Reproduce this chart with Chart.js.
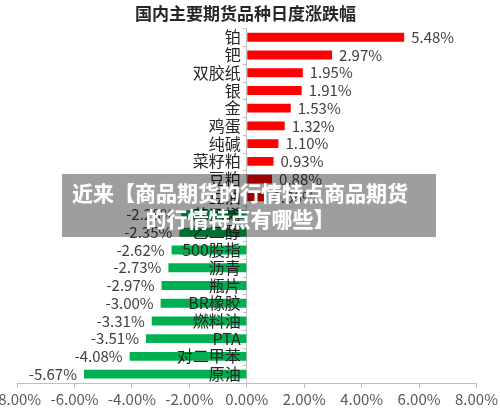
<!DOCTYPE html>
<html>
<head>
<meta charset="utf-8">
<script src="https://cdn.jsdelivr.net/npm/chart.js@4"></script>
<style>
    html, body { margin: 0; padding: 0; background: #fff; overflow: hidden; }
    #wrap { position: relative; width: 500px; height: 412px; overflow: hidden; }
    #chart-box { position: absolute; left: -9px; top: 0; width: 509px; height: 412px; }
    .banner {
        position: absolute; left: 62px; top: 174px; width: 374px; height: 63px;
        background: rgba(0, 0, 0, 0.38);
        box-sizing: border-box; padding: 5px 18px 0 0;
        color: #fff; text-align: center;
        font: bold 21px/26px "Noto Sans CJK SC", sans-serif;
        text-shadow: 0 0 1px rgba(255,255,255,0.6);
    }
</style>
</head>
<body>
<div id="wrap">
    <div id="chart-box"><canvas id="futuresChart" width="509" height="412"></canvas></div>
    <div class="banner">近来【商品期货的行情特点商品期货<br>的行情特点有哪些】</div>
</div>
<script>
// --- DATA ---
const categories = ['铂', '钯', '双胶纸', '银', '金', '鸡蛋', '纯碱', '菜籽粕', '豆粕', '豆油',
    '苯乙烯', '乙二醇', '500股指', '沥青', '瓶片', 'BR橡胶', '燃料油', 'PTA', '对二甲苯', '原油'];
const changes = [5.48, 2.97, 1.95, 1.91, 1.53, 1.32, 1.10, 0.93, 0.88, 0.66,
    -2.28, -2.35, -2.62, -2.73, -2.97, -3.00, -3.31, -3.51, -4.08, -5.67];
const xTicks = [-8, -6, -4, -2, 0, 2, 4, 6, 8];

const FONT = '"Noto Sans CJK SC", sans-serif';

// value labels at bar ends, category labels + small ticks next to the zero line
const barText = {
    id: 'barText',
    afterDatasetsDraw(chart) {
        const ctx = chart.ctx;
        const xs = chart.scales.x;
        const ys = chart.scales.y;
        const x0 = xs.getPixelForValue(0);
        const meta = chart.getDatasetMeta(0);
        ctx.save();

        // tick marks between categories
        ctx.strokeStyle = '#BFBFBF';
        ctx.lineWidth = 1;
        ctx.beginPath();
        const half = (ys.getPixelForTick(1) - ys.getPixelForTick(0)) / 2;
        for (let i = 0; i <= categories.length; i++) {
            const y = Math.round(ys.getPixelForTick(Math.min(i, categories.length - 1)) + (i === categories.length ? half : -half)) + 0.5;
            ctx.moveTo(x0 - 4, y);
            ctx.lineTo(x0, y);
        }
        ctx.stroke();

        ctx.textBaseline = 'middle';
        ctx.font = '15px ' + FONT;
        ctx.fillStyle = '#404040';
        meta.data.forEach((bar, i) => {
            const v = changes[i];
            const txt = v.toFixed(2) + '%';
            if (v >= 0) {
                ctx.textAlign = 'left';
                ctx.fillText(txt, bar.x + 7, bar.y);
            } else {
                ctx.textAlign = 'right';
                ctx.fillText(txt, bar.x - 7, bar.y);
            }
        });

        ctx.font = '16px ' + FONT;
        ctx.fillStyle = '#262626';
        ctx.textAlign = 'right';
        categories.forEach((c, i) => {
            ctx.fillText(c, x0 - 6, ys.getPixelForTick(i));
        });
        ctx.restore();
    }
};

new Chart(document.getElementById('futuresChart'), {
    type: 'bar',
    data: {
        labels: categories,
        datasets: [{
            data: changes,
            backgroundColor: changes.map(v => v >= 0 ? '#FF0000' : '#00B050'),
            barPercentage: 0.5,
            categoryPercentage: 1
        }]
    },
    options: {
        indexAxis: 'y',
        responsive: false,
        animation: false,
        layout: { padding: { bottom: 2 } },
        plugins: {
            legend: { display: false },
            tooltip: { enabled: false },
            title: {
                display: true,
                text: '国内主要期货品种日度涨跌幅',
                color: '#262626',
                font: { family: FONT, size: 17, weight: 'bold' },
                padding: { top: 3, bottom: 5 }
            }
        },
        scales: {
            x: {
                min: -8, max: 8,
                afterBuildTicks: (axis) => { axis.ticks = xTicks.map(v => ({ value: v })); },
                ticks: {
                    color: '#595959',
                    font: { family: FONT, size: 15 },
                    padding: 2,
                    maxRotation: 0,
                    callback: (v) => v.toFixed(2) + '%'
                },
                grid: { drawOnChartArea: false, color: '#BFBFBF', tickLength: 5 },
                border: { color: '#BFBFBF' }
            },
            y: {
                position: { x: 0 },
                ticks: { display: false },
                grid: { display: false },
                border: { color: '#BFBFBF' }
            }
        }
    },
    plugins: [barText]
});
</script>
</body>
</html>
